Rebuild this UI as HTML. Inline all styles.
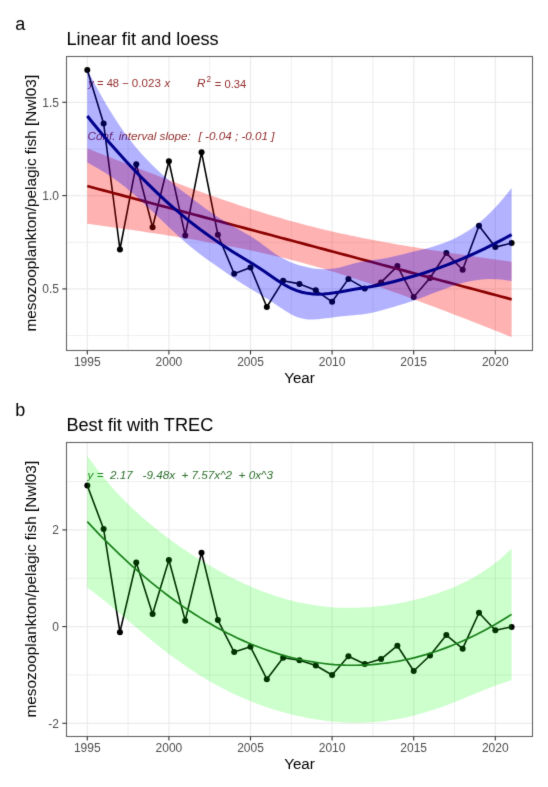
<!DOCTYPE html>
<html><head><meta charset="utf-8"><style>
html,body{margin:0;padding:0;background:#fff;}
svg{display:block;font-family:"Liberation Sans", sans-serif;}
</style></head><body><div id="w">
<svg width="548" height="787" viewBox="0 0 548 787">
<defs><filter id="soft" filterUnits="userSpaceOnUse" x="0" y="0" width="548" height="787" color-interpolation-filters="sRGB"><feConvolveMatrix order="3" kernelMatrix="0.0100 0.0800 0.0100 0.0800 0.6400 0.0800 0.0100 0.0800 0.0100" edgeMode="duplicate" preserveAlpha="true"/></filter></defs>
<g filter="url(#soft)">
<rect width="548" height="787" fill="#fff"/>
<text x="15.2" y="29.5" font-size="18" fill="#000">a</text>
<text x="66.4" y="45" font-size="18.15" fill="#000">Linear fit and loess</text>
<line x1="128.10" y1="56" x2="128.10" y2="350" stroke="#EBEBEB" stroke-width="0.8"/>
<line x1="209.70" y1="56" x2="209.70" y2="350" stroke="#EBEBEB" stroke-width="0.8"/>
<line x1="291.30" y1="56" x2="291.30" y2="350" stroke="#EBEBEB" stroke-width="0.8"/>
<line x1="372.90" y1="56" x2="372.90" y2="350" stroke="#EBEBEB" stroke-width="0.8"/>
<line x1="454.50" y1="56" x2="454.50" y2="350" stroke="#EBEBEB" stroke-width="0.8"/>
<line x1="66" y1="335.55" x2="532.5" y2="335.55" stroke="#EBEBEB" stroke-width="0.8"/>
<line x1="66" y1="242.25" x2="532.5" y2="242.25" stroke="#EBEBEB" stroke-width="0.8"/>
<line x1="66" y1="148.95" x2="532.5" y2="148.95" stroke="#EBEBEB" stroke-width="0.8"/>
<line x1="87.30" y1="56" x2="87.30" y2="350" stroke="#EBEBEB" stroke-width="1.2"/>
<line x1="168.90" y1="56" x2="168.90" y2="350" stroke="#EBEBEB" stroke-width="1.2"/>
<line x1="250.50" y1="56" x2="250.50" y2="350" stroke="#EBEBEB" stroke-width="1.2"/>
<line x1="332.10" y1="56" x2="332.10" y2="350" stroke="#EBEBEB" stroke-width="1.2"/>
<line x1="413.70" y1="56" x2="413.70" y2="350" stroke="#EBEBEB" stroke-width="1.2"/>
<line x1="495.30" y1="56" x2="495.30" y2="350" stroke="#EBEBEB" stroke-width="1.2"/>
<line x1="66" y1="288.90" x2="532.5" y2="288.90" stroke="#EBEBEB" stroke-width="1.2"/>
<line x1="66" y1="195.60" x2="532.5" y2="195.60" stroke="#EBEBEB" stroke-width="1.2"/>
<line x1="66" y1="102.30" x2="532.5" y2="102.30" stroke="#EBEBEB" stroke-width="1.2"/>
<text x="88.3" y="87.3" font-size="11.2" fill="#922E2E" xml:space="preserve"><tspan font-style="italic">y</tspan> = 48 − <tspan font-size="11.6">0.023</tspan> <tspan font-style="italic" x="164.5">x</tspan></text>
<text x="197" y="87.3" font-size="11.2" fill="#922E2E" xml:space="preserve"><tspan font-style="italic" font-size="11.8">R</tspan><tspan x="206.6" font-size="8.2" dy="-5.6">2</tspan><tspan x="214.8" dy="6.1">= 0.34</tspan></text>
<text x="87.5" y="140.3" font-size="11.7" font-style="italic" fill="#922E2E" xml:space="preserve">Conf. interval slope:<tspan x="198.5">[ -0.04 ; -0.01 ]</tspan></text>
<path d="M87.30,70.10 L103.62,123.50 L119.94,249.50 L136.26,164.30 L152.58,227.20 L168.90,161.30 L185.22,235.40 L201.54,152.30 L217.86,234.70 L234.18,273.80 L250.50,267.40 L266.82,307.00 L283.14,280.80 L299.46,283.90 L315.78,290.30 L332.10,301.80 L348.42,278.90 L364.74,288.40 L381.06,282.40 L397.38,266.10 L413.70,297.00 L430.02,278.00 L446.34,253.10 L462.66,269.70 L478.98,225.80 L495.30,247.10 L511.62,243.10" fill="none" stroke="#000" stroke-width="1.6" stroke-linejoin="round"/>
<circle cx="87.30" cy="70.10" r="3"/>
<circle cx="103.62" cy="123.50" r="3"/>
<circle cx="119.94" cy="249.50" r="3"/>
<circle cx="136.26" cy="164.30" r="3"/>
<circle cx="152.58" cy="227.20" r="3"/>
<circle cx="168.90" cy="161.30" r="3"/>
<circle cx="185.22" cy="235.40" r="3"/>
<circle cx="201.54" cy="152.30" r="3"/>
<circle cx="217.86" cy="234.70" r="3"/>
<circle cx="234.18" cy="273.80" r="3"/>
<circle cx="250.50" cy="267.40" r="3"/>
<circle cx="266.82" cy="307.00" r="3"/>
<circle cx="283.14" cy="280.80" r="3"/>
<circle cx="299.46" cy="283.90" r="3"/>
<circle cx="315.78" cy="290.30" r="3"/>
<circle cx="332.10" cy="301.80" r="3"/>
<circle cx="348.42" cy="278.90" r="3"/>
<circle cx="364.74" cy="288.40" r="3"/>
<circle cx="381.06" cy="282.40" r="3"/>
<circle cx="397.38" cy="266.10" r="3"/>
<circle cx="413.70" cy="297.00" r="3"/>
<circle cx="430.02" cy="278.00" r="3"/>
<circle cx="446.34" cy="253.10" r="3"/>
<circle cx="462.66" cy="269.70" r="3"/>
<circle cx="478.98" cy="225.80" r="3"/>
<circle cx="495.30" cy="247.10" r="3"/>
<circle cx="511.62" cy="243.10" r="3"/>
<path d="M87.30,148.36 L92.67,150.50 L98.04,152.63 L103.41,154.75 L108.78,156.87 L114.16,158.98 L119.53,161.09 L124.90,163.18 L130.27,165.28 L135.64,167.36 L141.01,169.44 L146.38,171.51 L151.75,173.57 L157.12,175.61 L162.50,177.65 L167.87,179.68 L173.24,181.70 L178.61,183.70 L183.98,185.70 L189.35,187.67 L194.72,189.63 L200.09,191.58 L205.47,193.51 L210.84,195.42 L216.21,197.31 L221.58,199.19 L226.95,201.04 L232.32,202.87 L237.69,204.67 L243.06,206.45 L248.43,208.20 L253.81,209.93 L259.18,211.62 L264.55,213.29 L269.92,214.92 L275.29,216.53 L280.66,218.10 L286.03,219.63 L291.40,221.14 L296.77,222.60 L302.15,224.04 L307.52,225.44 L312.89,226.80 L318.26,228.13 L323.63,229.43 L329.00,230.70 L334.37,231.93 L339.74,233.13 L345.11,234.30 L350.49,235.45 L355.86,236.56 L361.23,237.65 L366.60,238.71 L371.97,239.75 L377.34,240.77 L382.71,241.77 L388.08,242.74 L393.45,243.70 L398.83,244.64 L404.20,245.56 L409.57,246.46 L414.94,247.35 L420.31,248.23 L425.68,249.09 L431.05,249.95 L436.42,250.78 L441.80,251.61 L447.17,252.43 L452.54,253.24 L457.91,254.04 L463.28,254.83 L468.65,255.61 L474.02,256.39 L479.39,257.16 L484.76,257.92 L490.14,258.68 L495.51,259.43 L500.88,260.17 L506.25,260.91 L511.62,261.64 L511.62,337.04 L506.25,334.90 L500.88,332.77 L495.51,330.65 L490.14,328.53 L484.76,326.42 L479.39,324.31 L474.02,322.22 L468.65,320.12 L463.28,318.04 L457.91,315.96 L452.54,313.89 L447.17,311.83 L441.80,309.79 L436.42,307.75 L431.05,305.72 L425.68,303.70 L420.31,301.70 L414.94,299.70 L409.57,297.73 L404.20,295.77 L398.83,293.82 L393.45,291.89 L388.08,289.98 L382.71,288.09 L377.34,286.21 L371.97,284.36 L366.60,282.53 L361.23,280.73 L355.86,278.95 L350.49,277.20 L345.11,275.47 L339.74,273.78 L334.37,272.11 L329.00,270.48 L323.63,268.87 L318.26,267.30 L312.89,265.77 L307.52,264.26 L302.15,262.80 L296.77,261.36 L291.40,259.96 L286.03,258.60 L280.66,257.27 L275.29,255.97 L269.92,254.70 L264.55,253.47 L259.18,252.27 L253.81,251.10 L248.43,249.95 L243.06,248.84 L237.69,247.75 L232.32,246.69 L226.95,245.65 L221.58,244.63 L216.21,243.63 L210.84,242.66 L205.47,241.70 L200.09,240.76 L194.72,239.84 L189.35,238.94 L183.98,238.05 L178.61,237.17 L173.24,236.31 L167.87,235.45 L162.50,234.62 L157.12,233.79 L151.75,232.97 L146.38,232.16 L141.01,231.36 L135.64,230.57 L130.27,229.79 L124.90,229.01 L119.53,228.24 L114.16,227.48 L108.78,226.72 L103.41,225.97 L98.04,225.23 L92.67,224.49 L87.30,223.76 Z" fill="#FF0000" fill-opacity="0.3"/>
<path d="M87.30,186.06 L92.67,187.49 L98.04,188.93 L103.41,190.36 L108.78,191.80 L114.16,193.23 L119.53,194.66 L124.90,196.10 L130.27,197.53 L135.64,198.96 L141.01,200.40 L146.38,201.83 L151.75,203.27 L157.12,204.70 L162.50,206.13 L167.87,207.57 L173.24,209.00 L178.61,210.44 L183.98,211.87 L189.35,213.30 L194.72,214.74 L200.09,216.17 L205.47,217.61 L210.84,219.04 L216.21,220.47 L221.58,221.91 L226.95,223.34 L232.32,224.78 L237.69,226.21 L243.06,227.64 L248.43,229.08 L253.81,230.51 L259.18,231.95 L264.55,233.38 L269.92,234.81 L275.29,236.25 L280.66,237.68 L286.03,239.12 L291.40,240.55 L296.77,241.98 L302.15,243.42 L307.52,244.85 L312.89,246.28 L318.26,247.72 L323.63,249.15 L329.00,250.59 L334.37,252.02 L339.74,253.45 L345.11,254.89 L350.49,256.32 L355.86,257.76 L361.23,259.19 L366.60,260.62 L371.97,262.06 L377.34,263.49 L382.71,264.93 L388.08,266.36 L393.45,267.79 L398.83,269.23 L404.20,270.66 L409.57,272.10 L414.94,273.53 L420.31,274.96 L425.68,276.40 L431.05,277.83 L436.42,279.27 L441.80,280.70 L447.17,282.13 L452.54,283.57 L457.91,285.00 L463.28,286.44 L468.65,287.87 L474.02,289.30 L479.39,290.74 L484.76,292.17 L490.14,293.60 L495.51,295.04 L500.88,296.47 L506.25,297.91 L511.62,299.34" fill="none" stroke="#8B0000" stroke-width="2.7"/>
<path d="M87.30,69.51 L92.67,79.98 L98.04,90.02 L103.41,99.61 L108.78,108.73 L114.16,117.37 L119.53,125.51 L124.90,133.14 L130.27,140.28 L135.64,146.95 L141.01,153.17 L146.38,159.02 L151.75,164.52 L157.12,169.72 L162.50,174.65 L167.87,179.35 L173.24,183.85 L178.61,188.16 L183.98,192.31 L189.35,196.36 L194.72,200.43 L200.09,204.46 L205.47,208.42 L210.84,212.26 L216.21,215.92 L221.58,219.40 L226.95,222.69 L232.32,225.83 L237.69,228.87 L243.06,231.88 L248.43,234.92 L253.81,238.18 L259.18,241.98 L264.55,246.05 L269.92,250.10 L275.29,253.88 L280.66,257.23 L286.03,260.08 L291.40,262.45 L296.77,264.39 L302.15,265.99 L307.52,267.33 L312.89,268.38 L318.26,269.05 L323.63,269.31 L329.00,269.10 L334.37,268.44 L339.74,267.38 L345.11,266.02 L350.49,264.53 L355.86,263.09 L361.23,261.87 L366.60,261.03 L371.97,260.30 L377.34,259.52 L382.71,258.64 L388.08,257.63 L393.45,256.49 L398.83,255.22 L404.20,253.91 L409.57,252.60 L414.94,251.37 L420.31,250.11 L425.68,248.74 L431.05,247.25 L436.42,245.60 L441.80,243.77 L447.17,241.73 L452.54,239.42 L457.91,236.82 L463.28,233.87 L468.65,230.54 L474.02,226.77 L479.39,222.55 L484.76,217.88 L490.14,212.76 L495.51,207.20 L500.88,201.22 L506.25,194.84 L511.62,188.07 L511.62,281.09 L506.25,280.24 L500.88,279.61 L495.51,279.23 L490.14,279.10 L484.76,279.26 L479.39,279.70 L474.02,280.44 L468.65,281.47 L463.28,282.78 L457.91,284.33 L452.54,286.08 L447.17,287.97 L441.80,289.96 L436.42,292.02 L431.05,294.09 L425.68,296.16 L420.31,298.18 L414.94,300.13 L409.57,301.99 L404.20,303.73 L398.83,305.37 L393.45,306.96 L388.08,308.51 L382.71,310.02 L377.34,311.44 L371.97,312.70 L366.60,313.71 L361.23,314.44 L355.86,315.02 L350.49,315.53 L345.11,316.03 L339.74,316.58 L334.37,317.21 L329.00,317.91 L323.63,318.62 L318.26,319.21 L312.89,319.53 L307.52,319.39 L302.15,318.62 L296.77,317.01 L291.40,314.48 L286.03,311.30 L280.66,307.76 L275.29,304.13 L269.92,300.58 L264.55,297.17 L259.18,293.92 L253.81,290.76 L248.43,287.60 L243.06,284.25 L237.69,280.72 L232.32,277.06 L226.95,273.34 L221.58,269.59 L216.21,265.82 L210.84,262.03 L205.47,258.18 L200.09,254.22 L194.72,250.09 L189.35,245.73 L183.98,241.08 L178.61,236.23 L173.24,231.26 L167.87,226.20 L162.50,221.07 L157.12,215.91 L151.75,210.76 L146.38,205.67 L141.01,200.69 L135.64,195.85 L130.27,191.22 L124.90,186.82 L119.53,182.66 L114.16,178.75 L108.78,175.08 L103.41,171.64 L98.04,168.42 L92.67,165.39 L87.30,162.53 Z" fill="#0000FF" fill-opacity="0.3"/>
<path d="M87.30,116.02 L92.67,122.69 L98.04,129.22 L103.41,135.63 L108.78,141.91 L114.16,148.06 L119.53,154.08 L124.90,159.98 L130.27,165.75 L135.64,171.40 L141.01,176.93 L146.38,182.34 L151.75,187.64 L157.12,192.81 L162.50,197.86 L167.87,202.77 L173.24,207.55 L178.61,212.20 L183.98,216.69 L189.35,221.05 L194.72,225.26 L200.09,229.34 L205.47,233.30 L210.84,237.14 L216.21,240.87 L221.58,244.49 L226.95,248.02 L232.32,251.45 L237.69,254.80 L243.06,258.06 L248.43,261.26 L253.81,264.47 L259.18,267.95 L264.55,271.61 L269.92,275.34 L275.29,279.00 L280.66,282.49 L286.03,285.69 L291.40,288.46 L296.77,290.70 L302.15,292.31 L307.52,293.36 L312.89,293.95 L318.26,294.13 L323.63,293.96 L329.00,293.51 L334.37,292.83 L339.74,291.98 L345.11,291.03 L350.49,290.03 L355.86,289.05 L361.23,288.15 L366.60,287.37 L371.97,286.50 L377.34,285.48 L382.71,284.33 L388.08,283.07 L393.45,281.72 L398.83,280.30 L404.20,278.82 L409.57,277.30 L414.94,275.75 L420.31,274.14 L425.68,272.45 L431.05,270.67 L436.42,268.81 L441.80,266.87 L447.17,264.85 L452.54,262.75 L457.91,260.57 L463.28,258.33 L468.65,256.00 L474.02,253.60 L479.39,251.12 L484.76,248.57 L490.14,245.93 L495.51,243.21 L500.88,240.42 L506.25,237.54 L511.62,234.58" fill="none" stroke="#00008B" stroke-width="3.0"/>
<rect x="66.5" y="56.5" width="466" height="294" fill="none" stroke="#646464" stroke-width="1.1"/>
<line x1="62.3" y1="288.90" x2="66.5" y2="288.90" stroke="#333" stroke-width="1.1"/>
<text x="59" y="293.10" text-anchor="end" font-size="12" fill="#4D4D4D">0.5</text>
<line x1="62.3" y1="195.60" x2="66.5" y2="195.60" stroke="#333" stroke-width="1.1"/>
<text x="59" y="199.80" text-anchor="end" font-size="12" fill="#4D4D4D">1.0</text>
<line x1="62.3" y1="102.30" x2="66.5" y2="102.30" stroke="#333" stroke-width="1.1"/>
<text x="59" y="106.50" text-anchor="end" font-size="12" fill="#4D4D4D">1.5</text>
<line x1="87.30" y1="350.5" x2="87.30" y2="354.5" stroke="#333" stroke-width="1.1"/>
<text x="87.30" y="365.5" text-anchor="middle" font-size="12" fill="#4D4D4D">1995</text>
<line x1="168.90" y1="350.5" x2="168.90" y2="354.5" stroke="#333" stroke-width="1.1"/>
<text x="168.90" y="365.5" text-anchor="middle" font-size="12" fill="#4D4D4D">2000</text>
<line x1="250.50" y1="350.5" x2="250.50" y2="354.5" stroke="#333" stroke-width="1.1"/>
<text x="250.50" y="365.5" text-anchor="middle" font-size="12" fill="#4D4D4D">2005</text>
<line x1="332.10" y1="350.5" x2="332.10" y2="354.5" stroke="#333" stroke-width="1.1"/>
<text x="332.10" y="365.5" text-anchor="middle" font-size="12" fill="#4D4D4D">2010</text>
<line x1="413.70" y1="350.5" x2="413.70" y2="354.5" stroke="#333" stroke-width="1.1"/>
<text x="413.70" y="365.5" text-anchor="middle" font-size="12" fill="#4D4D4D">2015</text>
<line x1="495.30" y1="350.5" x2="495.30" y2="354.5" stroke="#333" stroke-width="1.1"/>
<text x="495.30" y="365.5" text-anchor="middle" font-size="12" fill="#4D4D4D">2020</text>
<text x="299.5" y="383" text-anchor="middle" font-size="15.2" fill="#000">Year</text>
<text x="0" y="0" transform="translate(35.8,203.2) rotate(-90)" text-anchor="middle" font-size="15.35" fill="#000">mesozooplankton/pelagic fish [Nwl03]</text>
<text x="15.2" y="415.5" font-size="18" fill="#000">b</text>
<text x="66.4" y="431" font-size="18.15" fill="#000">Best fit with TREC</text>
<line x1="128.10" y1="442" x2="128.10" y2="736" stroke="#EBEBEB" stroke-width="0.8"/>
<line x1="209.70" y1="442" x2="209.70" y2="736" stroke="#EBEBEB" stroke-width="0.8"/>
<line x1="291.30" y1="442" x2="291.30" y2="736" stroke="#EBEBEB" stroke-width="0.8"/>
<line x1="372.90" y1="442" x2="372.90" y2="736" stroke="#EBEBEB" stroke-width="0.8"/>
<line x1="454.50" y1="442" x2="454.50" y2="736" stroke="#EBEBEB" stroke-width="0.8"/>
<line x1="66" y1="674.95" x2="532.5" y2="674.95" stroke="#EBEBEB" stroke-width="0.8"/>
<line x1="66" y1="578.25" x2="532.5" y2="578.25" stroke="#EBEBEB" stroke-width="0.8"/>
<line x1="66" y1="481.55" x2="532.5" y2="481.55" stroke="#EBEBEB" stroke-width="0.8"/>
<line x1="87.30" y1="442" x2="87.30" y2="736" stroke="#EBEBEB" stroke-width="1.2"/>
<line x1="168.90" y1="442" x2="168.90" y2="736" stroke="#EBEBEB" stroke-width="1.2"/>
<line x1="250.50" y1="442" x2="250.50" y2="736" stroke="#EBEBEB" stroke-width="1.2"/>
<line x1="332.10" y1="442" x2="332.10" y2="736" stroke="#EBEBEB" stroke-width="1.2"/>
<line x1="413.70" y1="442" x2="413.70" y2="736" stroke="#EBEBEB" stroke-width="1.2"/>
<line x1="495.30" y1="442" x2="495.30" y2="736" stroke="#EBEBEB" stroke-width="1.2"/>
<line x1="66" y1="723.30" x2="532.5" y2="723.30" stroke="#EBEBEB" stroke-width="1.2"/>
<line x1="66" y1="626.60" x2="532.5" y2="626.60" stroke="#EBEBEB" stroke-width="1.2"/>
<line x1="66" y1="529.90" x2="532.5" y2="529.90" stroke="#EBEBEB" stroke-width="1.2"/>
<text x="87.6" y="479.2" font-size="11.7" font-style="italic" fill="#2E702E" xml:space="preserve">y =  2.17   -9.48x  + 7.57x^2  + 0x^3</text>
<path d="M87.30,485.41 L103.62,529.09 L119.94,632.16 L136.26,562.47 L152.58,613.92 L168.90,560.01 L185.22,620.63 L201.54,552.65 L217.86,620.06 L234.18,652.04 L250.50,646.81 L266.82,679.20 L283.14,657.77 L299.46,660.30 L315.78,665.54 L332.10,674.95 L348.42,656.21 L364.74,663.98 L381.06,659.08 L397.38,645.74 L413.70,671.02 L430.02,655.48 L446.34,635.11 L462.66,648.69 L478.98,612.78 L495.30,630.20 L511.62,626.93" fill="none" stroke="#000" stroke-width="1.6" stroke-linejoin="round"/>
<circle cx="87.30" cy="485.41" r="3"/>
<circle cx="103.62" cy="529.09" r="3"/>
<circle cx="119.94" cy="632.16" r="3"/>
<circle cx="136.26" cy="562.47" r="3"/>
<circle cx="152.58" cy="613.92" r="3"/>
<circle cx="168.90" cy="560.01" r="3"/>
<circle cx="185.22" cy="620.63" r="3"/>
<circle cx="201.54" cy="552.65" r="3"/>
<circle cx="217.86" cy="620.06" r="3"/>
<circle cx="234.18" cy="652.04" r="3"/>
<circle cx="250.50" cy="646.81" r="3"/>
<circle cx="266.82" cy="679.20" r="3"/>
<circle cx="283.14" cy="657.77" r="3"/>
<circle cx="299.46" cy="660.30" r="3"/>
<circle cx="315.78" cy="665.54" r="3"/>
<circle cx="332.10" cy="674.95" r="3"/>
<circle cx="348.42" cy="656.21" r="3"/>
<circle cx="364.74" cy="663.98" r="3"/>
<circle cx="381.06" cy="659.08" r="3"/>
<circle cx="397.38" cy="645.74" r="3"/>
<circle cx="413.70" cy="671.02" r="3"/>
<circle cx="430.02" cy="655.48" r="3"/>
<circle cx="446.34" cy="635.11" r="3"/>
<circle cx="462.66" cy="648.69" r="3"/>
<circle cx="478.98" cy="612.78" r="3"/>
<circle cx="495.30" cy="630.20" r="3"/>
<circle cx="511.62" cy="626.93" r="3"/>
<path d="M87.30,455.78 L92.67,463.28 L98.04,470.40 L103.41,477.15 L108.78,483.55 L114.16,489.64 L119.53,495.43 L124.90,500.95 L130.27,506.23 L135.64,511.28 L141.01,516.13 L146.38,520.79 L151.75,525.29 L157.12,529.63 L162.50,533.82 L167.87,537.88 L173.24,541.82 L178.61,545.64 L183.98,549.35 L189.35,552.95 L194.72,556.44 L200.09,559.83 L205.47,563.11 L210.84,566.30 L216.21,569.37 L221.58,572.35 L226.95,575.22 L232.32,577.97 L237.69,580.62 L243.06,583.16 L248.43,585.58 L253.81,587.89 L259.18,590.08 L264.55,592.14 L269.92,594.09 L275.29,595.90 L280.66,597.59 L286.03,599.16 L291.40,600.59 L296.77,601.89 L302.15,603.07 L307.52,604.11 L312.89,605.02 L318.26,605.81 L323.63,606.46 L329.00,606.99 L334.37,607.39 L339.74,607.67 L345.11,607.83 L350.49,607.87 L355.86,607.80 L361.23,607.60 L366.60,607.30 L371.97,606.89 L377.34,606.37 L382.71,605.74 L388.08,605.01 L393.45,604.17 L398.83,603.23 L404.20,602.19 L409.57,601.04 L414.94,599.79 L420.31,598.43 L425.68,596.95 L431.05,595.36 L436.42,593.65 L441.80,591.80 L447.17,589.80 L452.54,587.65 L457.91,585.34 L463.28,582.83 L468.65,580.13 L474.02,577.20 L479.39,574.02 L484.76,570.58 L490.14,566.84 L495.51,562.78 L500.88,558.38 L506.25,553.61 L511.62,548.44 L511.62,680.29 L506.25,681.92 L500.88,683.70 L495.51,685.62 L490.14,687.65 L484.76,689.76 L479.39,691.94 L474.02,694.14 L468.65,696.36 L463.28,698.57 L457.91,700.75 L452.54,702.88 L447.17,704.94 L441.80,706.93 L436.42,708.82 L431.05,710.61 L425.68,712.30 L420.31,713.86 L414.94,715.31 L409.57,716.63 L404.20,717.82 L398.83,718.88 L393.45,719.81 L388.08,720.61 L382.71,721.28 L377.34,721.82 L371.97,722.23 L366.60,722.52 L361.23,722.68 L355.86,722.72 L350.49,722.64 L345.11,722.44 L339.74,722.13 L334.37,721.70 L329.00,721.16 L323.63,720.52 L318.26,719.76 L312.89,718.90 L307.52,717.94 L302.15,716.87 L296.77,715.70 L291.40,714.42 L286.03,713.04 L280.66,711.55 L275.29,709.96 L269.92,708.26 L264.55,706.45 L259.18,704.53 L253.81,702.50 L248.43,700.35 L243.06,698.09 L237.69,695.70 L232.32,693.19 L226.95,690.56 L221.58,687.80 L216.21,684.92 L210.84,681.90 L205.47,678.76 L200.09,675.48 L194.72,672.07 L189.35,668.53 L183.98,664.87 L178.61,661.08 L173.24,657.16 L167.87,653.13 L162.50,649.00 L157.12,644.76 L151.75,640.42 L146.38,636.02 L141.01,631.54 L135.64,627.02 L130.27,622.46 L124.90,617.90 L119.53,613.34 L114.16,608.83 L108.78,604.37 L103.41,599.99 L98.04,595.73 L92.67,591.60 L87.30,587.63 Z" fill="#00FF00" fill-opacity="0.2"/>
<path d="M87.30,521.70 L92.67,527.44 L98.04,533.06 L103.41,538.57 L108.78,543.96 L114.16,549.23 L119.53,554.39 L124.90,559.42 L130.27,564.34 L135.64,569.15 L141.01,573.83 L146.38,578.40 L151.75,582.86 L157.12,587.19 L162.50,591.41 L167.87,595.51 L173.24,599.49 L178.61,603.36 L183.98,607.11 L189.35,610.74 L194.72,614.26 L200.09,617.65 L205.47,620.94 L210.84,624.10 L216.21,627.15 L221.58,630.08 L226.95,632.89 L232.32,635.58 L237.69,638.16 L243.06,640.62 L248.43,642.97 L253.81,645.19 L259.18,647.30 L264.55,649.30 L269.92,651.17 L275.29,652.93 L280.66,654.57 L286.03,656.10 L291.40,657.50 L296.77,658.80 L302.15,659.97 L307.52,661.02 L312.89,661.96 L318.26,662.78 L323.63,663.49 L329.00,664.08 L334.37,664.55 L339.74,664.90 L345.11,665.14 L350.49,665.26 L355.86,665.26 L361.23,665.14 L366.60,664.91 L371.97,664.56 L377.34,664.09 L382.71,663.51 L388.08,662.81 L393.45,661.99 L398.83,661.06 L404.20,660.00 L409.57,658.84 L414.94,657.55 L420.31,656.15 L425.68,654.63 L431.05,652.99 L436.42,651.23 L441.80,649.36 L447.17,647.37 L452.54,645.27 L457.91,643.04 L463.28,640.70 L468.65,638.24 L474.02,635.67 L479.39,632.98 L484.76,630.17 L490.14,627.24 L495.51,624.20 L500.88,621.04 L506.25,617.76 L511.62,614.37" fill="none" stroke="#1A801A" stroke-width="1.7"/>
<rect x="66.5" y="442.5" width="466" height="294" fill="none" stroke="#646464" stroke-width="1.1"/>
<line x1="62.3" y1="723.30" x2="66.5" y2="723.30" stroke="#333" stroke-width="1.1"/>
<text x="59" y="727.50" text-anchor="end" font-size="12" fill="#4D4D4D">-2</text>
<line x1="62.3" y1="626.60" x2="66.5" y2="626.60" stroke="#333" stroke-width="1.1"/>
<text x="59" y="630.80" text-anchor="end" font-size="12" fill="#4D4D4D">0</text>
<line x1="62.3" y1="529.90" x2="66.5" y2="529.90" stroke="#333" stroke-width="1.1"/>
<text x="59" y="534.10" text-anchor="end" font-size="12" fill="#4D4D4D">2</text>
<line x1="87.30" y1="736.5" x2="87.30" y2="740.5" stroke="#333" stroke-width="1.1"/>
<text x="87.30" y="751.5" text-anchor="middle" font-size="12" fill="#4D4D4D">1995</text>
<line x1="168.90" y1="736.5" x2="168.90" y2="740.5" stroke="#333" stroke-width="1.1"/>
<text x="168.90" y="751.5" text-anchor="middle" font-size="12" fill="#4D4D4D">2000</text>
<line x1="250.50" y1="736.5" x2="250.50" y2="740.5" stroke="#333" stroke-width="1.1"/>
<text x="250.50" y="751.5" text-anchor="middle" font-size="12" fill="#4D4D4D">2005</text>
<line x1="332.10" y1="736.5" x2="332.10" y2="740.5" stroke="#333" stroke-width="1.1"/>
<text x="332.10" y="751.5" text-anchor="middle" font-size="12" fill="#4D4D4D">2010</text>
<line x1="413.70" y1="736.5" x2="413.70" y2="740.5" stroke="#333" stroke-width="1.1"/>
<text x="413.70" y="751.5" text-anchor="middle" font-size="12" fill="#4D4D4D">2015</text>
<line x1="495.30" y1="736.5" x2="495.30" y2="740.5" stroke="#333" stroke-width="1.1"/>
<text x="495.30" y="751.5" text-anchor="middle" font-size="12" fill="#4D4D4D">2020</text>
<text x="299.5" y="769" text-anchor="middle" font-size="15.2" fill="#000">Year</text>
<text x="0" y="0" transform="translate(35.8,589.2) rotate(-90)" text-anchor="middle" font-size="15.35" fill="#000">mesozooplankton/pelagic fish [Nwl03]</text>
</g>
</svg></div></body></html>
